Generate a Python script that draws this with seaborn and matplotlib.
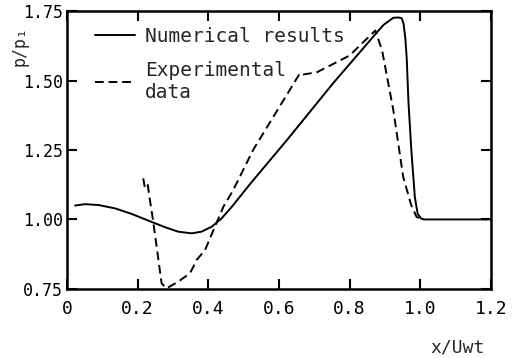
import numpy as np
import pandas as pd
import matplotlib
matplotlib.use("Agg")
import matplotlib.pyplot as plt
import seaborn as sns

# Numerical results (solid)
num_x = [0.023, 0.051, 0.089, 0.136, 0.183, 0.230, 0.278, 0.315, 0.353, 0.381,
         0.410, 0.438, 0.467, 0.52, 0.623, 0.754, 0.878, 0.896, 0.924, 0.939,
         0.948, 0.953, 0.958, 0.962, 0.967, 0.975, 0.985, 0.993, 1.003, 1.012, 1.2]
num_p = [1.050, 1.055, 1.052, 1.040, 1.020, 0.996, 0.972, 0.956, 0.950, 0.956,
         0.974, 1.004, 1.046, 1.13, 1.286, 1.491, 1.674, 1.700, 1.726, 1.727,
         1.724, 1.705, 1.652, 1.58, 1.42, 1.25, 1.08, 1.02, 1.003, 1.0, 1.0]

# Experimental data (dashed)
exp_x = [0.216, 0.221, 0.229, 0.232, 0.245, 0.259, 0.268, 0.282, 0.315, 0.348,
         0.358, 0.367, 0.391, 0.419, 0.443, 0.47, 0.527, 0.66, 0.67, 0.708,
         0.765, 0.80, 0.873, 0.892, 0.924, 0.952, 0.975, 0.99, 1.008]
exp_p = [1.148, 1.112, 1.124, 1.094, 0.986, 0.854, 0.770, 0.752, 0.776, 0.806,
         0.830, 0.854, 0.890, 0.974, 1.046, 1.104, 1.25, 1.527, 1.522, 1.53,
         1.567, 1.59, 1.68, 1.61, 1.394, 1.153, 1.05, 1.009, 1.0]

x_ticks = [0, 0.2, 0.4, 0.6, 0.8, 1.0, 1.2]
x_tick_labels = ["0", "0.2", "0.4", "0.6", "0.8", "1.0", "1.2"]
y_ticks = [0.75, 1.00, 1.25, 1.50, 1.75]
y_tick_labels = ["0.75", "1.00", "1.25", "1.50", "1.75"]

sns.set_style("ticks")
plt.rcParams["font.family"] = ["DejaVu Sans Mono", "DejaVu Sans"]

fig = plt.figure(figsize=(5.15, 3.58), dpi=100)
ax = fig.add_axes([0.130, 0.193, 0.823, 0.776])

df_num = pd.DataFrame({"x": num_x, "p": num_p})
df_exp = pd.DataFrame({"x": exp_x, "p": exp_p})

sns.lineplot(data=df_num, x="x", y="p", ax=ax, color="black", lw=1.4,
             sort=False, estimator=None, label="Numerical results")
sns.lineplot(data=df_exp, x="x", y="p", ax=ax, color="black", lw=1.4,
             sort=False, estimator=None, label="Experimental\ndata",
             dashes=False, linestyle=(0, (4.5, 2.5)))

ax.set_xlim(0, 1.2)
ax.set_ylim(0.75, 1.75)
ax.set_xticks(x_ticks)
ax.set_xticklabels(x_tick_labels, fontsize=13)
ax.set_yticks(y_ticks)
ax.set_yticklabels(y_tick_labels, fontsize=12)
ax.tick_params(direction="in", length=7, width=1.5, top=True, right=True,
               labelcolor="black", color="black")
ax.tick_params(axis="x", pad=8)
ax.tick_params(axis="y", pad=3)
for s in ax.spines.values():
    s.set_linewidth(1.8)
    s.set_color("black")

ax.set_xlabel("")
ax.set_ylabel("")
fig.text(0.037, 0.871, "p/p\u2081", rotation=90, fontsize=12, ha="center", va="center")
fig.text(0.889, 0.014, "x/Uwt", fontsize=13, ha="center", va="baseline")

leg = ax.legend(loc="upper left", bbox_to_anchor=(0.048, 0.971), frameon=False,
                fontsize=14, handlelength=2.06, handletextpad=0.5, labelspacing=0.75,
                borderaxespad=0.0)

fig.savefig("out.png", dpi=100)
